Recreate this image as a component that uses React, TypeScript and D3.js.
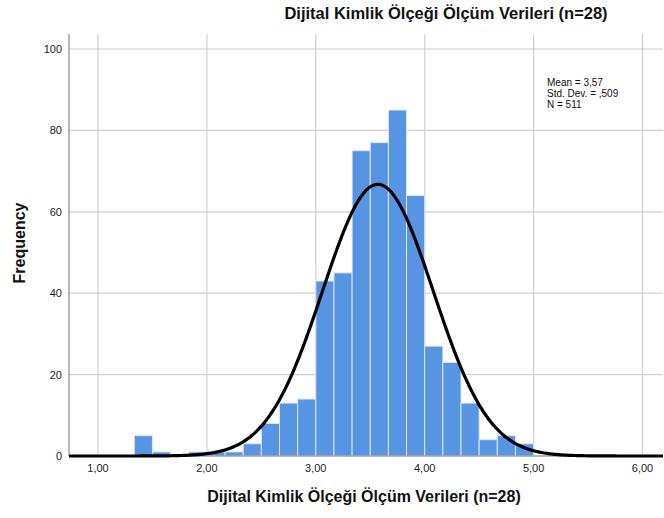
import React from "react";
import * as d3 from "d3";

const counts = [5, 1, 0, 1, 1, 1, 3, 8, 13, 14, 43, 45, 75, 77, 85, 64, 27, 23, 13, 4, 5, 3];
const firstBinStart = 4 / 3;
const binWidth = 1 / 6;
const xTicks = [1, 2, 3, 4, 5, 6];
const yTicks = [0, 20, 40, 60, 80, 100];
const stats = { mean: 3.57, sd: 0.509, n: 511 };
const statLines = ["Mean = 3,57", "Std. Dev. = ,509", "N = 511"];
const title = "Dijital Kimlik Ölçeği Ölçüm Verileri (n=28)";
const xLabel = "Dijital Kimlik Ölçeği Ölçüm Verileri (n=28)";
const yLabel = "Frequency";

const W = 664;
const H = 518;
const left = 69;
const right = 663;
const top = 34;
const bottom = 456;

export default function App() {
  const x = d3.scaleLinear().domain([1, 6]).range([98, 642.5]);
  const xMin = x.invert(left);
  const xMax = x.invert(right);
  const y = d3.scaleLinear().domain([0, 100]).range([bottom, 49]);

  const bins = counts.map((c, i) => ({
    x0: firstBinStart + i * binWidth,
    x1: firstBinStart + (i + 1) * binWidth,
    c,
  }));

  const scale = stats.n * binWidth;
  const pdf = (v: number) =>
    (scale / (stats.sd * Math.sqrt(2 * Math.PI))) *
    Math.exp(-0.5 * ((v - stats.mean) / stats.sd) ** 2);
  const pts = d3.range(0, 401).map((i) => xMin + ((xMax - xMin) * i) / 400);
  const line = d3
    .line<number>()
    .x((v) => x(v))
    .y((v) => y(pdf(v)))
    .curve(d3.curveMonotoneX);

  const fmt = (v: number) => v.toFixed(2).replace(".", ",");
  const font = "'Liberation Sans', Arial, sans-serif";

  return (
    <svg
      width={W}
      height={H}
      style={{ position: "absolute", left: 0, top: 0, background: "#fff" }}
      fontFamily={font}
    >
      <rect width={W} height={H} fill="#fff" />
      {xTicks.map((t) => (
        <line key={"gx" + t} x1={x(t)} x2={x(t)} y1={top} y2={bottom} stroke="#d0d0d0" strokeWidth={1.2} />
      ))}
      {yTicks.map((t) => (
        <line key={"gy" + t} x1={left} x2={right} y1={y(t)} y2={y(t)} stroke="#d0d0d0" strokeWidth={1.2} />
      ))}
      {bins.map((b, i) =>
        b.c > 0 ? (
          <rect
            key={"b" + i}
            x={x(b.x0)}
            y={y(b.c)}
            width={x(b.x1) - x(b.x0)}
            height={y(0) - y(b.c)}
            fill="#5794e2"
            stroke="#dbe8f8"
            strokeWidth={1}
          />
        ) : null
      )}
      <line x1={left} x2={left} y1={top} y2={bottom} stroke="#888" strokeWidth={1.2} />
      <line x1={left} x2={right} y1={bottom} y2={bottom} stroke="#888" strokeWidth={1.2} />
      <path d={line(pts) || ""} fill="none" stroke="#000" strokeWidth={3.2} />
      {yTicks.map((t) => (
        <text key={"ty" + t} x={62} y={y(t) + 4} fontSize={11} textAnchor="end" fill="#222">
          {t}
        </text>
      ))}
      {xTicks.map((t) => (
        <text key={"tx" + t} x={x(t)} y={472} fontSize={11} textAnchor="middle" fill="#222">
          {fmt(t)}
        </text>
      ))}
      <text x={446} y={19} fontSize={16.5} fontWeight="bold" textAnchor="middle" fill="#111">
        {title}
      </text>
      <text x={364} y={502} fontSize={16} fontWeight="bold" textAnchor="middle" fill="#111">
        {xLabel}
      </text>
      <text
        transform={`translate(25, ${(top + bottom) / 2 - 2}) rotate(-90)`}
        fontSize={16}
        fontWeight="bold"
        textAnchor="middle"
        fill="#111"
      >
        {yLabel}
      </text>
      {statLines.map((s, i) => (
        <text key={"s" + i} x={547} y={86 + i * 11} fontSize={10} fill="#111">
          {s}
        </text>
      ))}
    </svg>
  );
}
